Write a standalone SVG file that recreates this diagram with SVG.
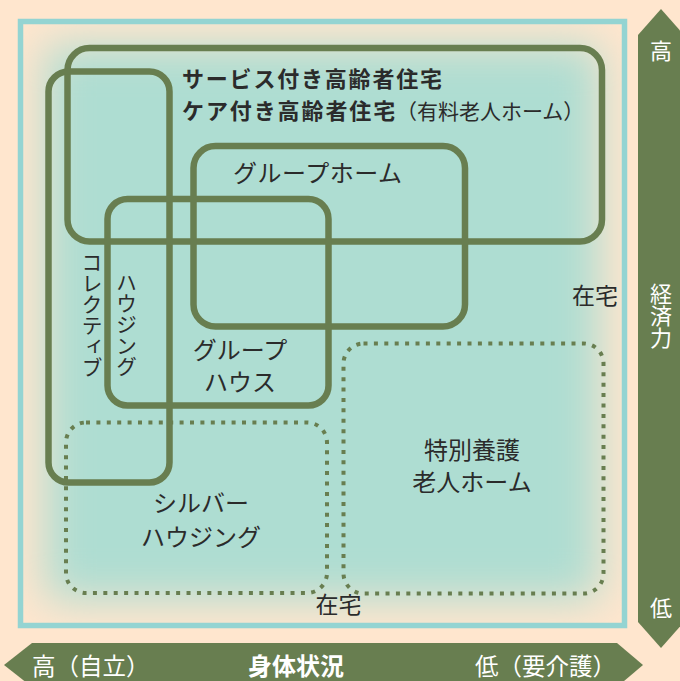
<svg xmlns="http://www.w3.org/2000/svg" width="680" height="681" viewBox="0 0 680 681">
<style>
text{font-family:"Noto Sans CJK JP","Noto Sans",sans-serif;fill:#2b2b2b;}
.b{font-weight:bold;}
.w{fill:#ffffff;}
.solid{fill:none;stroke:#687e50;stroke-width:6.5;}
.dot{fill:none;stroke:#687e50;stroke-width:4;stroke-dasharray:4 6.4;}
.arrow{fill:#687e50;}
.v{writing-mode:vertical-rl;}
</style>
<defs>
<filter id="soft" filterUnits="userSpaceOnUse" x="0" y="0" width="680" height="681">
<feGaussianBlur stdDeviation="22"/>
</filter>
<clipPath id="inner"><rect x="20" y="21" width="605" height="605"/></clipPath>
</defs>
<rect x="0" y="0" width="680" height="681" fill="#ffe6ce"/>
<g id="field">
<g clip-path="url(#inner)"><rect x="45" y="45" width="555" height="555" fill="#aeddd2" filter="url(#soft)"/></g>
<rect x="20.5" y="21.5" width="604" height="604" fill="none" stroke="#94d4d2" stroke-width="5.5"/>
</g>
<g id="axes">
<polygon class="arrow" points="638,35 661,9 684,35 684,622 661,648 638,622"/>
<text class="w" x="661" y="59" font-size="22" text-anchor="middle">高</text>
<text class="w v" x="661" y="283" font-size="22">経済力</text>
<text class="w" x="661" y="616" font-size="22" text-anchor="middle">低</text>
<polygon class="arrow" points="4,665 32,643 617,643 643,665 617,687 32,687"/>
<text class="w" x="32" y="675" font-size="23.5">高（自立）</text>
<text class="w b" x="296" y="675" font-size="24" text-anchor="middle">身体状況</text>
<text class="w" x="616" y="675" font-size="23.5" text-anchor="end">低（要介護）</text>
</g>
<g id="service-housing">
<rect class="solid" x="67.5" y="48" width="534.5" height="193.5" rx="22"/>
<text x="182" y="87"><tspan class="b" font-size="22" letter-spacing="1.8">サービス付き高齢者住宅</tspan><tspan class="b" x="182" y="119" font-size="22" letter-spacing="1.9">ケア付き高齢者住宅</tspan><tspan x="396" y="119" font-size="21" letter-spacing="0">（有料老人ホーム）</tspan></text>
</g>
<g id="collective-housing">
<rect class="solid" x="48.5" y="71.5" width="121" height="411" rx="20"/>
<text class="v" x="92" y="252" font-size="21">コレクティブ</text>
<text class="v" x="126.5" y="272" font-size="21">ハウジング</text>
</g>
<g id="group-home">
<rect class="solid" x="193.5" y="146" width="271.5" height="180.5" rx="22"/>
<text x="233" y="182" font-size="24" textLength="169" lengthAdjust="spacing">グループホーム</text>
</g>
<g id="group-house">
<rect class="solid" x="107.5" y="199" width="221" height="206.5" rx="20"/>
<text x="240" y="359" font-size="24" text-anchor="middle">グループ</text>
<text x="240" y="391" font-size="24" text-anchor="middle">ハウス</text>
</g>
<g id="silver-housing">
<rect class="dot" x="66" y="422.5" width="261" height="170.5" rx="20"/>
<text x="201" y="512" font-size="24" text-anchor="middle">シルバー</text>
<text x="201" y="546" font-size="24" text-anchor="middle">ハウジング</text>
</g>
<g id="nursing-home">
<rect class="dot" x="343.5" y="343.5" width="260" height="250" rx="20"/>
<text x="472" y="459" font-size="24" text-anchor="middle">特別養護</text>
<text x="472" y="491" font-size="24" text-anchor="middle">老人ホーム</text>
</g>
<g id="home-labels">
<text x="595" y="304" font-size="23" text-anchor="middle">在宅</text>
<text x="338.5" y="613" font-size="23" text-anchor="middle">在宅</text>
</g>
</svg>
